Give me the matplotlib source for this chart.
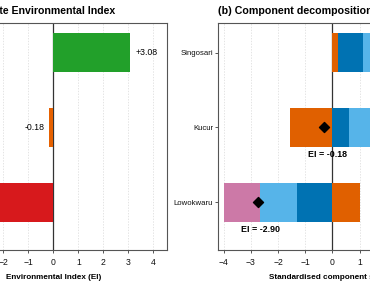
import matplotlib
matplotlib.use("Agg")
import matplotlib.pyplot as plt
import numpy as np

plt.rcParams['font.family'] = ['Liberation Sans', 'DejaVu Sans']

# Data
villages = ["Lowokwaru", "Kucur", "Singosari"]
ei_values = [-2.90, -0.18, 3.08]
ei_colors = ["#D7191C", "#E66100", "#22A02A"]

comp_names = ["Comp 1", "Comp 2", "Comp 3", "Comp 4"]
comp_colors = ["#E06000", "#0072B2", "#56B4E9", "#CC79A7"]
comp_scores = [
    [1.00, -1.32, -1.34, -1.34],   # Lowokwaru
    [-1.55, 0.62, 0.80, 0.00],     # Kucur
    [0.22, 0.90, 1.10, 0.86],      # Singosari
]
diamond_pos = [-2.75, -0.30, 3.08]

frame_col = "#555555"


def style_axis(ax):
    for s in ax.spines.values():
        s.set_color(frame_col)
        s.set_linewidth(0.8)
    ax.tick_params(axis='both', direction='out', length=2.3, width=0.7,
                   color=frame_col, labelcolor='#111111')
    ax.tick_params(axis='x', labelsize=6.2, pad=3.5)
    ax.tick_params(axis='y', labelsize=5.6, pad=1.5)
    ax.grid(axis='x', color="#d9d9d9", linestyle=(0, (2, 2)), linewidth=0.5)
    ax.set_axisbelow(True)
    ax.axvline(0, color="#333333", linewidth=0.9, zorder=2)


fig = plt.figure(figsize=(3.7, 2.92), dpi=100)
ypos = np.arange(len(villages))

# Panel (a)
ax1 = fig.add_axes([-0.164, 0.1455, 0.616, 0.777])
ax1.barh(ypos, ei_values, height=0.52, color=ei_colors, zorder=3)
for y, v in zip(ypos, ei_values):
    if v >= 0:
        ax1.text(v + 0.22, y, "%+.2f" % v, ha='left', va='center', fontsize=6.3)
    else:
        ax1.text(v - 0.18, y, "%.2f" % v, ha='right', va='center', fontsize=6.3)
ax1.set_xlim(-4.55, 4.55)
ax1.set_ylim(-0.63, 2.40)
ax1.set_xticks(range(-4, 5))
ax1.set_yticks(ypos)
ax1.set_yticklabels(villages)
style_axis(ax1)
ax1.set_title("(a) Composite Environmental Index", loc='left', fontsize=7.6,
              fontweight='bold', pad=6)
ax1.set_xlabel("Environmental Index (EI)", fontsize=5.9, fontweight='bold', labelpad=5)

# Panel (b)
ax2 = fig.add_axes([0.590, 0.1455, 0.617, 0.777])
scores = np.array(comp_scores)
pos_left = np.zeros(len(villages))
neg_left = np.zeros(len(villages))
for j, name in enumerate(comp_names):
    vals = scores[:, j]
    left = np.where(vals >= 0, pos_left, neg_left)
    ax2.barh(ypos, vals, left=left, height=0.52, color=comp_colors[j],
             label=name, zorder=3)
    pos_left = pos_left + np.where(vals >= 0, vals, 0)
    neg_left = neg_left + np.where(vals < 0, vals, 0)
ax2.scatter(diamond_pos, ypos, marker='D', s=26, color='black', zorder=5)
for y, d, v in zip(ypos, diamond_pos, ei_values):
    ax2.text(d + 0.1, y - 0.36, "EI = %.2f" % v, ha='center', va='center',
             fontsize=6.4, fontweight='bold')
ax2.set_xlim(-4.2, 4.2)
ax2.set_ylim(-0.63, 2.40)
ax2.set_xticks(range(-4, 5))
ax2.set_yticks(ypos)
ax2.set_yticklabels(villages)
style_axis(ax2)
ax2.set_title("(b) Component decomposition", loc='left', fontsize=7.7,
              fontweight='bold', pad=6)
ax2.set_xlabel("Standardised component scores", fontsize=5.9, fontweight='bold',
               labelpad=5)

fig.savefig("out.png", dpi=100)
